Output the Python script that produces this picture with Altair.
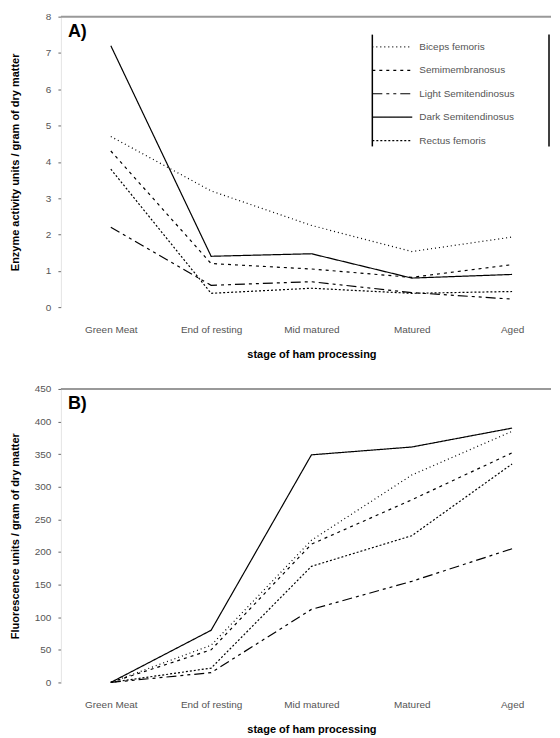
import altair as alt
import pandas as pd

stages = ["Green Meat", "End of resting", "Mid matured", "Matured", "Aged"]
muscles = ["Biceps femoris", "Semimembranosus", "Light Semitendinosus",
           "Dark Semitendinosus", "Rectus femoris"]

# Panel A: enzyme activity units / gram of dry matter
enz_biceps = [4.7, 3.2, 2.25, 1.53, 1.93]
enz_semimem = [4.3, 1.2, 1.05, 0.82, 1.17]
enz_light = [2.2, 0.6, 0.7, 0.4, 0.22]
enz_dark = [7.2, 1.4, 1.47, 0.8, 0.9]
enz_rectus = [3.8, 0.38, 0.52, 0.38, 0.43]

# Panel B: fluorescence units / gram of dry matter
flu_biceps = [0, 57, 218, 318, 385]
flu_semimem = [0, 50, 212, 280, 352]
flu_light = [0, 15, 112, 155, 205]
flu_dark = [0, 80, 349, 361, 390]
flu_rectus = [0, 22, 178, 225, 335]

a_ticks = [0, 1, 2, 3, 4, 5, 6, 7, 8]
b_ticks = [0, 50, 100, 150, 200, 250, 300, 350, 400, 450]

dashes = [[1, 3], [3, 4], [10, 4, 3, 4, 3, 4], [1, 0], [2, 2]]

FONT = "Liberation Sans"


def long_df(series):
    rows = []
    for m, vals in zip(muscles, series):
        for s, v in zip(stages, vals):
            rows.append({"stage": s, "muscle": m, "value": v})
    return pd.DataFrame(rows)


df_a = long_df([enz_biceps, enz_semimem, enz_light, enz_dark, enz_rectus])
df_b = long_df([flu_biceps, flu_semimem, flu_light, flu_dark, flu_rectus])

W = 491


def panel(df, ymax, ticks, ytitle, letter, height, show_legend):
    legend = None
    if show_legend:
        legend = alt.Legend(
            orient="none", legendX=307, legendY=15, title=None,
            symbolType="stroke", symbolSize=1600, symbolStrokeWidth=1.2,
            symbolStrokeColor="black", labelFont=FONT, labelFontSize=10,
            labelColor="#555", labelOffset=6, rowPadding=0.5, clipHeight=22.5,
            padding=4,
        )
    yscale = alt.Scale(domain=[0, ymax], nice=False)
    yaxis = alt.Axis(title=ytitle, values=ticks, grid=False,
                     labelOverlap=False, tickSize=3, labelPadding=7,
                     minExtent=32, maxExtent=32, titlePadding=8)
    lines = alt.Chart(df).mark_line(color="black", strokeWidth=1.2).encode(
        x=alt.X("stage:N", sort=stages,
                scale=alt.Scale(type="point", range=[50, 452], padding=0),
                axis=alt.Axis(title="stage of ham processing", labelAngle=0,
                              ticks=False, domain=False, labelPadding=17,
                              titlePadding=14)),
        y=alt.Y("value:Q", scale=yscale, axis=yaxis),
        strokeDash=alt.StrokeDash("muscle:N", sort=muscles,
                                  scale=alt.Scale(domain=muscles, range=dashes),
                                  legend=legend),
    )
    top = alt.Chart(pd.DataFrame({"value": [ymax]})).mark_rule(
        color="#999", strokeWidth=2).encode(
        y=alt.Y("value:Q", scale=yscale, axis=yaxis))
    lab = alt.Chart(pd.DataFrame({"t": [letter]})).mark_text(
        font=FONT, fontSize=18, fontWeight="bold", align="left",
        baseline="middle", color="black").encode(
        text="t:N", x=alt.value(7), y=alt.value(15))
    layers = [lines, top, lab]
    if show_legend:
        for xv in [312, 489]:
            layers.append(alt.Chart(pd.DataFrame({"t": [0]})).mark_rule(
                color="black", strokeWidth=1.5).encode(
                x=alt.value(xv), y=alt.value(18), y2=alt.value(130)))
    return alt.layer(*layers).properties(width=W, height=height)


chart_a = panel(df_a, 8, a_ticks,
                "Enzyme activity units / gram of dry matter", "A)", 291, True)
chart_b = panel(df_b, 450, b_ticks,
                "Fluorescence units / gram of dry matter", "B)", 294, False)

chart = alt.vconcat(chart_a, chart_b, spacing=25).properties(
    padding={"left": 2, "top": 3, "right": 0, "bottom": 0}
).configure_view(stroke=None).configure_axis(
    labelFont=FONT, labelFontSize=10, labelColor="#555",
    titleFont=FONT, titleFontSize=11, titleFontWeight="bold",
    titleColor="black", domainColor="#e4e4e4", tickColor="#666",
)

chart.save("out.html", embed_options={"renderer": "svg", "actions": False})
